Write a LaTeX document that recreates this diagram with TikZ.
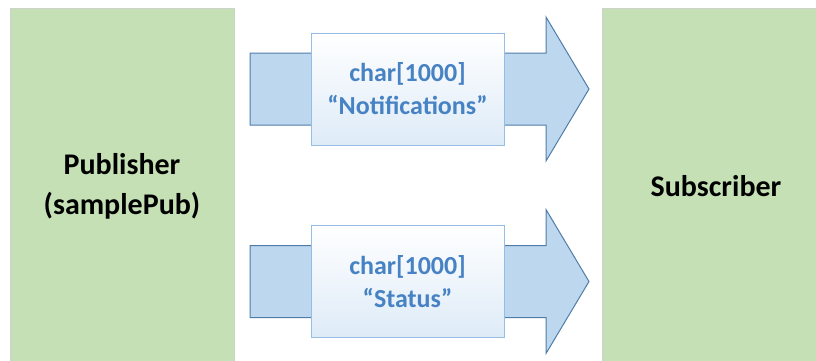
\documentclass[tikz,border=0pt]{standalone}
\usepackage{fontspec}
\setmainfont{Carlito}
\usetikzlibrary{positioning}

\definecolor{appgreen}{RGB}{197,224,180}
\definecolor{appedge}{RGB}{205,210,205}
\definecolor{arrowfill}{RGB}{189,215,238}
\definecolor{arrowedge}{RGB}{80,125,168}
\definecolor{topicedge}{RGB}{150,190,228}
\definecolor{topicfill}{RGB}{222,235,247}
\definecolor{topictext}{RGB}{70,130,196}

\tikzset{
    appbox/.style   = {draw=appedge, fill=appgreen, line width=1pt, align=center,
                       font=\fontsize{30}{40}\selectfont\bfseries, inner sep=0pt},
    topicbox/.style = {draw=topicedge, top color=white, bottom color=topicfill,
                       line width=1pt, minimum width=193pt, minimum height=112pt,
                       align=center, text=topictext,
                       font=\fontsize{26}{33}\selectfont\bfseries},
    arrowbody/.style= {draw=arrowedge, fill=arrowfill, line width=1pt, line join=miter}
}

\begin{document}
\begin{tikzpicture}[x=1pt, y=-1pt]
    \useasboundingbox (0,0) rectangle (816,360);
    \clip (0,0) rectangle (816,360);

    % Applications
    \node [appbox, minimum width=224pt, minimum height=356pt] (pub) at (122,186)  {Publisher\\(samplePub)};
    \node [appbox, minimum width=228pt, minimum height=356pt] (sub) at (716,186)  {Subscriber};

    % Topics {arrow body, then the topic box on top}
    \foreach \i/\y/\topic in {1/89/``Notifications'', 2/281.5/``Status''} {
        \coordinate (start\i) at (250,\y);
        \coordinate (tip\i)   at (589,\y);
        \draw [arrowbody] (start\i) ++(0,-36) -- ++(296,0) -- ++(0,-36) -- (tip\i)
                          -- ++(-43,72) -- ++(0,-36) -- ++(-296,0) -- cycle;
        \node [topicbox] (topic\i) at (407.5,\y) {char[1000]\\\topic};
    }

\end{tikzpicture}
\end{document}
